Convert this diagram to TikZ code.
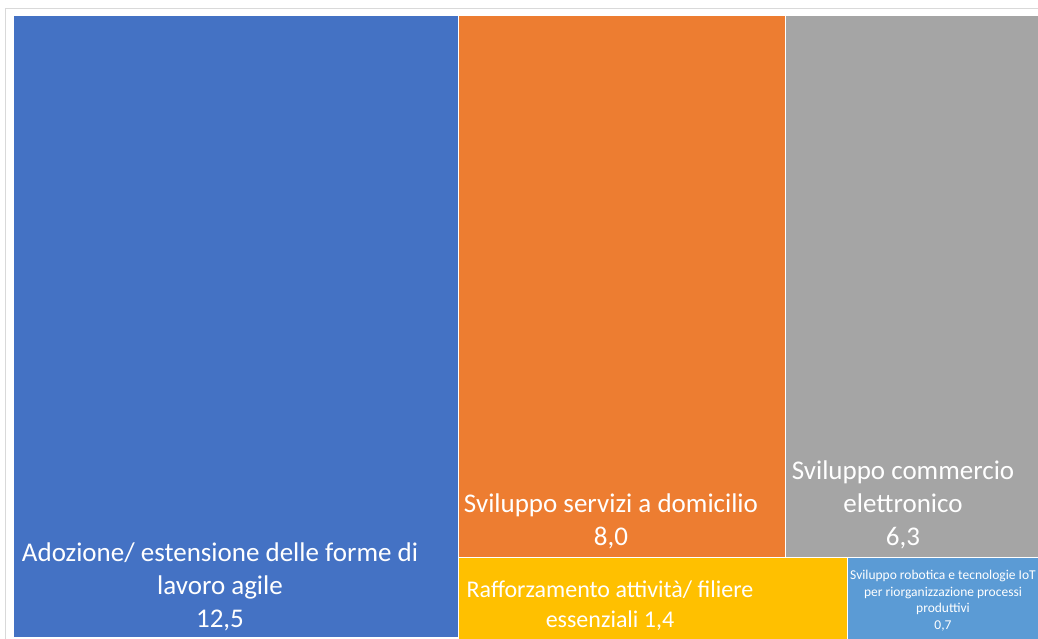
\documentclass[tikz,border=0pt]{standalone}
\usepackage{fontspec}
\setmainfont{Carlito}
\usepackage{tikz}
\definecolor{agile}{HTML}{4472C4}
\definecolor{domicilio}{HTML}{ED7D31}
\definecolor{ecommerce}{HTML}{A5A5A5}
\definecolor{filiere}{HTML}{FFC000}
\definecolor{robotica}{HTML}{5B9BD5}
\definecolor{frame}{HTML}{D9D9D9}

\begin{document}
\begin{tikzpicture}[x=1pt,y=-1pt,
  tile/.style={draw=white,line width=1pt},
  big/.style={text=white,align=center,font=\fontsize{27}{33}\selectfont},
  mid/.style={text=white,align=center,font=\fontsize{24}{29.5}\selectfont},
  small/.style={text=white,align=center,font=\fontsize{13.5}{16.6}\selectfont}]
\useasboundingbox (0,0) rectangle (1038,639);
\draw [color=frame] (5.5,639) -- (5.5,8.5) -- (1038,8.5);

\fill [tile,fill=agile] (13,16) rectangle (458,637);
\fill [tile,fill=domicilio] (458,16) rectangle (785,557);
\fill [tile,fill=ecommerce] (785,16) rectangle (1042,557);
\fill [tile,fill=filiere] (458,557) rectangle (847,642);
\fill [tile,fill=robotica] (847,557) rectangle (1042,642);

\node [big] (agile) at (220,586.5) {Adozione/ estensione delle forme di\\lavoro agile\\12,5};
\node [big] (domicilio) at (611,521) {Sviluppo servizi a domicilio\\8,0};
\node [big] (ecommerce) at (903,505) {Sviluppo commercio\\elettronico\\6,3};
\node [mid] (filiere) at (610,605.5) {Rafforzamento attività/ filiere\\essenziali 1,4};
\node [small] (robotica) at (943,600.5) {Sviluppo robotica e tecnologie IoT\\per riorganizzazione processi\\produttivi\\0,7};
\end{tikzpicture}
\end{document}
